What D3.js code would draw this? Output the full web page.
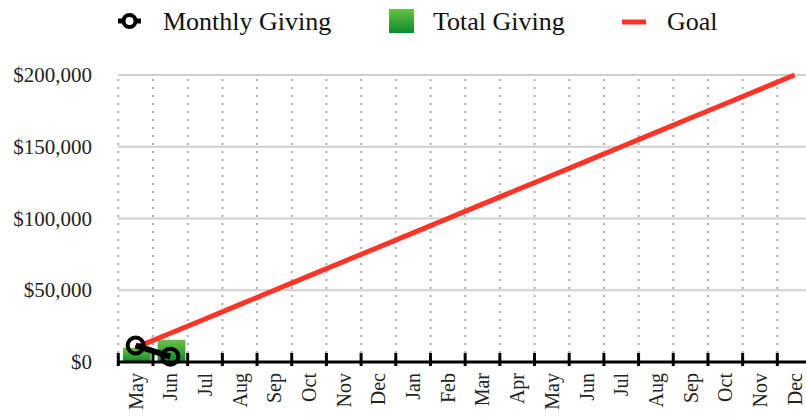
<!DOCTYPE html>
<html>
<head>
<meta charset="utf-8">
<script src="https://cdn.jsdelivr.net/npm/d3@7"></script>
<style>
  body { margin: 0; background: #fff; }
</style>
</head>
<body>
<svg id="chart" width="806" height="419"></svg>
<script>
// data
var months = ["May", "Jun", "Jul", "Aug", "Sep", "Oct", "Nov", "Dec",
  "Jan", "Feb", "Mar", "Apr", "May ", "Jun ", "Jul ", "Aug ", "Sep ", "Oct ", "Nov ", "Dec "];
var monthlyGiving = [11500, 3700];
var totalGiving = [10000, 15500];
var goal = [10000, 20000, 30000, 40000, 50000, 60000, 70000, 80000, 90000, 100000,
  110000, 120000, 130000, 140000, 150000, 160000, 170000, 180000, 190000, 200000];
var yTicks = [0, 50000, 100000, 150000, 200000];

var FONT = "'Liberation Serif', 'Times New Roman', serif";
var svg = d3.select("#chart");

var x = d3.scaleBand().domain(months).range([119.5, 813.2]).paddingInner(0.2).paddingOuter(0.1);
var xEdge = d3.scaleBand().domain(months).range([118.3, 812]);
var y = d3.scaleLinear().domain([0, 200000]).range([362, 75]);

var defs = svg.append("defs");
var grad = defs.append("linearGradient").attr("id", "green").attr("x1", 0).attr("y1", 0).attr("x2", 0).attr("y2", 1);
grad.append("stop").attr("offset", "0%").attr("stop-color", "#6cc144");
grad.append("stop").attr("offset", "100%").attr("stop-color", "#0b8a2c");

// grid
var grid = svg.append("g");
grid.selectAll(".hg").data(yTicks.slice(1)).enter().append("line")
  .attr("x1", 118).attr("x2", 806)
  .attr("y1", function(d) { return y(d); }).attr("y2", function(d) { return y(d); })
  .attr("stroke", "#d0d0d0").attr("stroke-width", 2);
grid.selectAll(".vg").data(months).enter().append("line")
  .attr("x1", function(d) { return xEdge(d); }).attr("x2", function(d) { return xEdge(d); })
  .attr("y1", 79).attr("y2", 360)
  .attr("stroke", "#b0b0b0").attr("stroke-width", 2).attr("stroke-dasharray", "2,6");

// y labels
svg.selectAll(".yl").data(yTicks).enter().append("text")
  .attr("x", 92).attr("y", function(d) { return y(d) + 7; })
  .attr("text-anchor", "end").attr("font-family", FONT).attr("font-size", 21).attr("fill", "#222")
  .text(function(d) { return "$" + d3.format(",")(d); });

// bars
svg.selectAll(".bar").data(totalGiving).enter().append("rect")
  .attr("x", function(d, i) { return x(months[i]); })
  .attr("width", x.bandwidth())
  .attr("y", function(d) { return y(d); })
  .attr("height", function(d) { return y(0) - y(d); })
  .attr("fill", "url(#green)");

// goal line
var line = d3.line()
  .x(function(d, i) { return xEdge(months[i]) + xEdge.bandwidth() / 2; })
  .y(function(d) { return y(d); });
svg.append("path").datum(goal).attr("d", line)
  .attr("fill", "none").attr("stroke", "#ff3326").attr("stroke-width", 5);

// x axis
var xAxis = svg.append("g").attr("transform", "translate(0,362)");
xAxis.append("line").attr("x1", 118).attr("x2", 806).attr("stroke", "#000").attr("stroke-width", 3);
xAxis.selectAll(".tick").data(months).enter().append("line")
  .attr("x1", function(d) { return xEdge(d); }).attr("x2", function(d) { return xEdge(d); })
  .attr("y1", -9).attr("y2", 4).attr("stroke", "#000").attr("stroke-width", 3);
xAxis.selectAll(".xl").data(months).enter().append("text")
  .attr("transform", function(d) {
    return "translate(" + (xEdge(d) + xEdge.bandwidth() / 2 + 7) + ",11) rotate(-90)";
  })
  .attr("text-anchor", "end").attr("font-family", FONT).attr("font-size", 20).attr("fill", "#222")
  .text(function(d) { return d.trim(); });

// monthly giving line
svg.append("path").datum(monthlyGiving).attr("d", line)
  .attr("fill", "none").attr("stroke", "#000").attr("stroke-width", 6);
svg.selectAll(".dot").data(monthlyGiving).enter().append("circle")
  .attr("cx", function(d, i) { return xEdge(months[i]) + xEdge.bandwidth() / 2; })
  .attr("cy", function(d) { return y(d); })
  .attr("r", 8).attr("fill", "none").attr("stroke", "#000").attr("stroke-width", 4);

// legend
var lg = svg.append("g").attr("font-family", FONT).attr("font-size", 26).attr("fill", "#111");
lg.append("line").attr("x1", 118).attr("x2", 141).attr("y1", 21).attr("y2", 21)
  .attr("stroke", "#000").attr("stroke-width", 5);
lg.append("circle").attr("cx", 129.5).attr("cy", 21).attr("r", 6)
  .attr("fill", "#fff").attr("stroke", "#000").attr("stroke-width", 4);
lg.append("text").attr("x", 163).attr("y", 30).text("Monthly Giving");
lg.append("rect").attr("x", 389).attr("y", 9).attr("width", 25).attr("height", 24).attr("fill", "url(#green)");
lg.append("text").attr("x", 433).attr("y", 30).text("Total Giving");
lg.append("line").attr("x1", 622).attr("x2", 646).attr("y1", 22).attr("y2", 22)
  .attr("stroke", "#ff3326").attr("stroke-width", 5);
lg.append("text").attr("x", 667).attr("y", 30).text("Goal");
</script>
</body>
</html>
